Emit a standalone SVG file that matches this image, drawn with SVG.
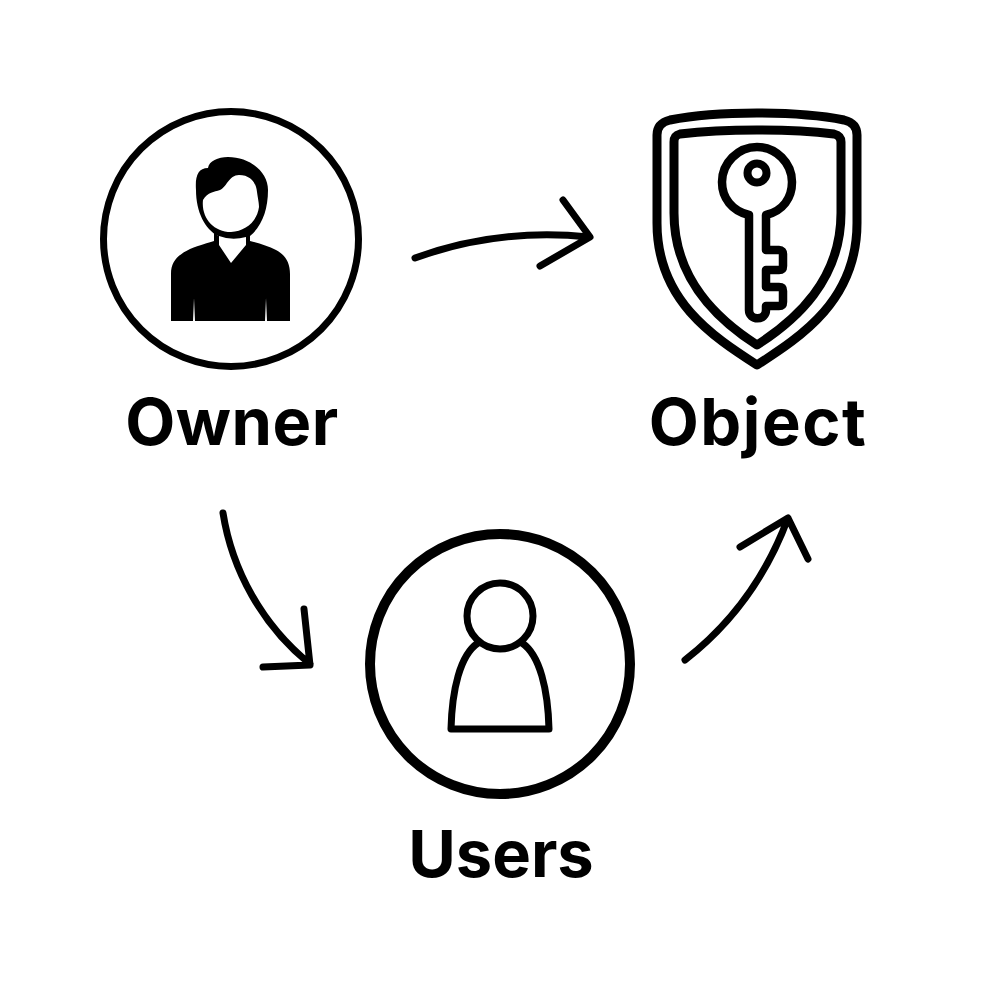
<svg xmlns="http://www.w3.org/2000/svg" width="1000" height="1000" viewBox="0 0 1000 1000">
<style>
.lbl{font-family:"Inter","Liberation Sans",sans-serif;font-weight:700;font-size:65px;fill:#000;text-anchor:middle}
.ln{fill:none;stroke:#000;stroke-linecap:round;stroke-linejoin:round}
.ar{stroke-width:7}
</style>
<rect width="1000" height="1000" fill="#fff"/>
<g id="owner">
<circle class="ln" cx="231" cy="239" r="127.500" stroke-width="7"/>
<path d="M171 321L171 274C171 261 178 255 190 249C200 245 208 243 214 241L214 232L218 236C222 238 243 238 250 232L250 241C258 243 268 246 276 250C285 255 290 262 290 274L290 321L267 321L266 298L265 321L195 321L194 298L193 321Z" fill="#000"/>
<path d="M218 241L218 236C205 229 196 212 196 190C195 176 198 168 208 168C209 161 218 157 228 157C250 157 268 172 268 190C268 210 262 226 250 236L250 241C246 250 240 255 231 263C226 255 222 248 218 241Z" fill="#000"/>
<path d="M219 245L231 263L246 245L246 237Q232 241 219 236Z" fill="#fff"/>
<path d="M203 200C208 192 214 192 220 190C226 188 229 175 239 175C250 175 256 182 257 192C258 199 259 203 259 207C257 222 245 231 231 232C213 232 201 217 203 200Z" fill="#fff"/>
</g>
<g id="object">
<path class="ln" stroke-width="9" d="M757 365C712 336 657 300 657 223L657 135C657 126 662 122 670 120C695 115 725 113 757 113C789 113 819 115 844 120C852 122 857 126 857 135L857 223C857 300 802 336 757 365Z"/>
<path class="ln" stroke-width="9" d="M757 345C718 320 674 280 674 213L674 142C674 137 676 135 680 134C705 131 730 130 757 130C784 130 809 131 834 134C838 135 841 137 841 142L841 213C841 280 796 320 757 345Z"/>
<path class="ln" stroke-width="8.500" d="M749 215C732 211 722 198 722 182C722 163 738 147 757 147C776 147 792 163 792 182C792 198 783 211 766 215L766 250L779 250C782 250 783 252 783 254L783 266C783 269 782 270 779 270L766 270L766 287L779 287C782 287 783 288 783 291L783 302C783 305 782 306 779 306L766 306L766 310C766 321 749 321 749 310Z"/>
<circle class="ln" cx="757" cy="173" r="9.500" stroke-width="8"/>
</g>
<g id="users">
<circle class="ln" cx="500" cy="664" r="130" stroke-width="10"/>
<circle class="ln" cx="500" cy="616" r="33" stroke-width="7"/>
<path class="ln" stroke-width="7" d="M478 643C460 655 452 690 451 729L549 729C548 690 540 655 522 643"/>
</g>
<g id="connectors">
<path class="ln ar" d="M415 258C470 238 530 231 589 237M563 200L590 237L540 266"/>
<path class="ln ar" d="M223 513C232 570 262 625 310 664M304 609L310 665L263 667"/>
<path class="ln ar" d="M685 660C730 625 765 580 788 518M740 547L788 518L808 559"/>
</g>
<text class="lbl" x="232" y="445" letter-spacing="0.500">Owner</text>
<text class="lbl" x="758" y="445" letter-spacing="1.500">Object</text>
<text class="lbl" x="501" y="877">Users</text>
</svg>
